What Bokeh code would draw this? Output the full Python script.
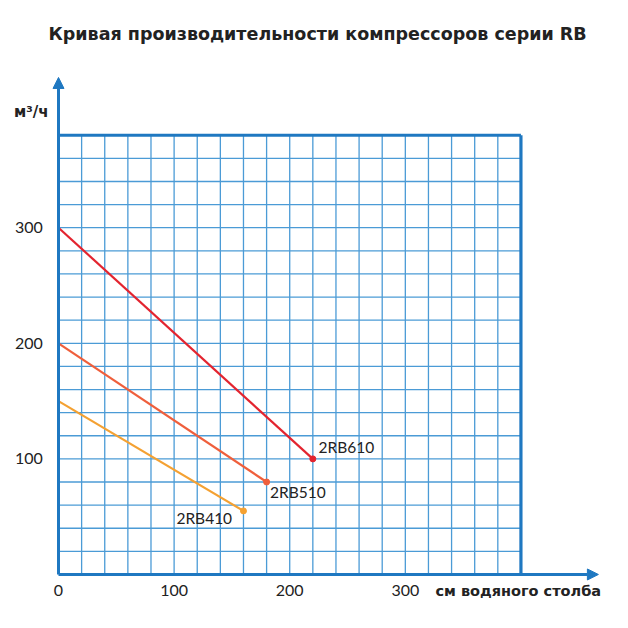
from bokeh.plotting import figure
from bokeh.models import Range1d, Arrow, NormalHead
from bokeh.core.properties import value
from bokeh.embed import file_html
from bokeh.resources import INLINE

# ---- data ----
title_text = "Кривая производительности компрессоров серии RB"
x_ticks = [0, 100, 200, 300]
x_tick_labels = ["0", "100", "200", "300"]
y_ticks = [100, 200, 300]
y_tick_labels = ["100", "200", "300"]
x_unit = "см водяного столба"
y_unit = "м³/ч"

models = ["2RB610", "2RB510", "2RB410"]
pressure_start = [0, 0, 0]
pressure_end = [220, 180, 160]
flow_start = [300, 200, 150]
flow_end = [100, 80, 55]
line_colors = ["#e3242f", "#ef5f3c", "#f4a132"]
label_x = [225, 183, 102]
label_y = [110, 71, 49]

grid_x = [20, 40, 60, 80, 100, 120, 140, 160, 180, 200, 220, 240, 260, 280, 300, 320, 340, 360, 380]
grid_y = [20, 40, 60, 80, 100, 120, 140, 160, 180, 200, 220, 240, 260, 280, 300, 320, 340, 360]
x_max = 400
y_max = 380
x_arrow = 467
y_arrow = 430

AXIS = "#1f78c1"
GRID = "#4b9bd6"
TEXT = "#222222"
FONT = "Lato"
BOLD_FONT = "DejaVu Sans"

p = figure(width=612, height=612, output_backend="svg", toolbar_location=None,
           x_axis_type=None, y_axis_type=None,
           x_range=Range1d(-50.17, 479.2), y_range=Range1d(-32.9, 451.6),
           min_border_left=0, min_border_right=0, min_border_bottom=0, min_border_top=52,
           outline_line_color=None, background_fill_color="white")

p.title.text = title_text
p.title.align = "left"
p.title.offset = 48
p.title.text_font = BOLD_FONT
p.title.text_font_size = "17.5px"
p.title.text_font_style = "bold"
p.title.text_color = TEXT
p.title.standoff = 17

# grid
p.segment(x0=grid_x, y0=[0] * len(grid_x), x1=grid_x, y1=[y_max] * len(grid_x),
          line_color=GRID, line_width=1.3)
p.segment(x0=[0] * len(grid_y), y0=grid_y, x1=[x_max] * len(grid_y), y1=grid_y,
          line_color=GRID, line_width=1.3)

# top and right border
p.segment(x0=[0, x_max], y0=[y_max, 0], x1=[x_max, x_max], y1=[y_max, y_max],
          line_color=AXIS, line_width=3.2)

# axes with arrows
p.add_layout(Arrow(end=NormalHead(size=11, fill_color=AXIS, line_color=AXIS),
                   x_start=0, y_start=0, x_end=x_arrow, y_end=0,
                   line_color=AXIS, line_width=3))
p.add_layout(Arrow(end=NormalHead(size=11, fill_color=AXIS, line_color=AXIS),
                   x_start=0, y_start=0, x_end=0, y_end=y_arrow,
                   line_color=AXIS, line_width=3))

# curves
for i in range(len(models)):
    p.line([pressure_start[i], pressure_end[i]], [flow_start[i], flow_end[i]],
           line_color=line_colors[i], line_width=2.2)
    p.scatter([pressure_end[i]], [flow_end[i]], size=6, color=line_colors[i])

p.text(x=label_x, y=label_y, text=models, text_font=value(FONT),
       text_font_size="15.5px", text_color=TEXT, text_baseline="middle", text_align="left")

# tick labels
p.text(x=x_ticks, y=[-14] * len(x_ticks), text=x_tick_labels, text_font=value(FONT),
       text_font_size="16px", text_color=TEXT, text_baseline="middle", text_align="center")
p.text(x=[-13.5] * len(y_ticks), y=y_ticks, text=y_tick_labels, text_font=value(FONT),
       text_font_size="16px", text_color=TEXT, text_baseline="middle", text_align="right")

# unit labels
p.text(x=[326], y=[-14], text=[x_unit], text_font=value(BOLD_FONT), text_font_size="14.5px",
       text_font_style="bold", text_color=TEXT, text_baseline="middle", text_align="left")
p.text(x=[-8.6], y=[400], text=[y_unit], text_font=value(BOLD_FONT), text_font_size="15px",
       text_font_style="bold", text_color=TEXT, text_baseline="middle", text_align="right")

open("out.html", "w").write(file_html(p, INLINE))
